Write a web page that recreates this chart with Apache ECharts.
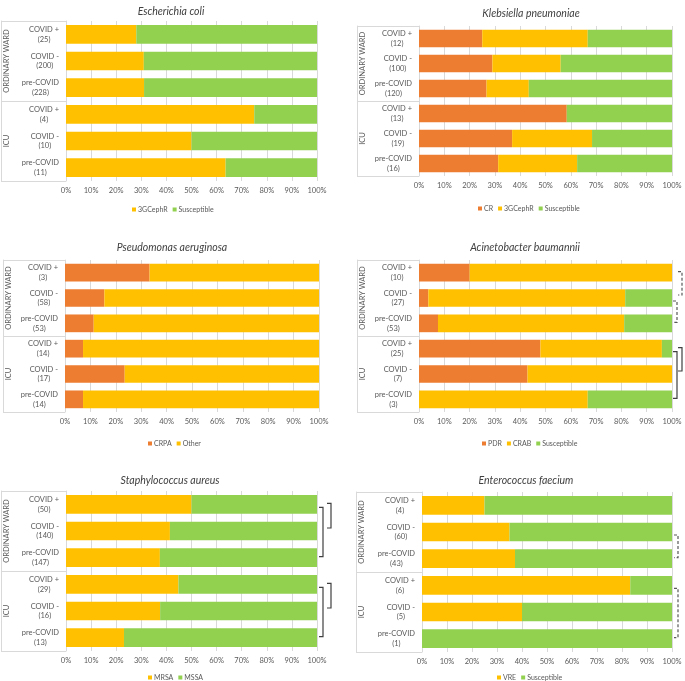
<!DOCTYPE html>
<html>
<head>
<meta charset="utf-8">
<script src="https://cdn.jsdelivr.net/npm/echarts@6/dist/echarts.min.js"></script>
<style>
  html, body { margin: 0; padding: 0; background: #fff; }
  #main { width: 685px; height: 681px; }
</style>
</head>
<body>
<div id="main"></div>
<script>
// rows, top to bottom, in every panel
var rowNames = ['COVID +', 'COVID -', 'pre-COVID', 'COVID +', 'COVID -', 'pre-COVID'];
var wards = ['ORDINARY WARD', 'ICU'];

// isolates per row
var ecoliN = [25, 200, 228, 4, 10, 11];
var klebN = [12, 100, 120, 13, 19, 16];
var pseuN = [3, 58, 53, 14, 17, 14];
var acinN = [10, 27, 53, 25, 7, 3];
var staphN = [50, 140, 147, 29, 16, 13];
var entN = [4, 60, 43, 6, 5, 1];

// percentages
var ecoli3GC = [28, 31, 31.1, 75, 50, 63.6];
var ecoliSusc = [72, 69, 68.9, 25, 50, 36.4];

var klebCR = [25, 29, 26.7, 58.4, 36.8, 31.3];
var kleb3GC = [41.7, 27, 16.7, 0, 31.6, 31.2];
var klebSusc = [33.3, 44, 56.6, 41.6, 31.6, 37.5];

var pseuCRPA = [33.3, 15.5, 11.3, 7.1, 23.5, 7.1];
var pseuOther = [66.7, 84.5, 88.7, 92.9, 76.5, 92.9];

var acinPDR = [20, 3.7, 7.5, 48, 42.9, 0];
var acinCRAB = [80, 77.8, 73.6, 48, 57.1, 66.7];
var acinSusc = [0, 18.5, 18.9, 4, 0, 33.3];

var staphMRSA = [50, 41.4, 37.4, 44.8, 37.5, 23.1];
var staphMSSA = [50, 58.6, 62.6, 55.2, 62.5, 76.9];

var entVRE = [25, 35, 37.2, 83.3, 40, 0];
var entSusc = [75, 65, 62.8, 16.7, 60, 100];

// significance brackets: panel, from row, to row, level (0 inner, 1 outer), dashed
var brackets = [
	[3, 0, 1, 1, true], [3, 1, 2, 0, true], [3, 3, 4, 1, false], [3, 3, 5, 0, false],
	[4, 0, 1, 1, false], [4, 0, 2, 0, false], [4, 3, 4, 1, false], [4, 3, 5, 0, false],
	[5, 1, 2, 0, true], [5, 3, 5, 0, true]
];

var ORANGE = '#ED7D31', YELLOW = '#FFC000', GREEN = '#92D050';
var TXT = '#595959', LINE = '#D9D9D9';
var FONT = 'Lato, "Open Sans", sans-serif';

var panels = [
	{ title: 'Escherichia coli', n: ecoliN, segs: [['3GCephR', ecoli3GC, YELLOW], ['Susceptible', ecoliSusc, GREEN]],
		grid: { left: 66, top: 21, width: 251, height: 160 }, box: 65, cx: 166, ty: 1, lx: 127, ly: 201, off: [6, 14] },
	{ title: 'Klebsiella pneumoniae', n: klebN, segs: [['CR', klebCR, ORANGE], ['3GCephR', kleb3GC, YELLOW], ['Susceptible', klebSusc, GREEN]],
		grid: { left: 419, top: 26, width: 253, height: 150 }, box: 62, cx: 526, ty: 3, lx: 473, ly: 200, off: [6, 14] },
	{ title: 'Pseudomonas aeruginosa', n: pseuN, segs: [['CRPA', pseuCRPA, ORANGE], ['Other', pseuOther, YELLOW]],
		grid: { left: 65, top: 260, width: 254, height: 152 }, box: 62, cx: 167, ty: 237, lx: 143, ly: 435, off: [6, 14] },
	{ title: 'Acinetobacter baumannii', n: acinN, segs: [['PDR', acinPDR, ORANGE], ['CRAB', acinCRAB, YELLOW], ['Susceptible', acinSusc, GREEN]],
		grid: { left: 419, top: 260, width: 253, height: 152 }, box: 62, cx: 520, ty: 237, lx: 477, ly: 435, off: [5, 10] },
	{ title: 'Staphylococcus aureus', n: staphN, segs: [['MRSA', staphMRSA, YELLOW], ['MSSA', staphMSSA, GREEN]],
		grid: { left: 66, top: 491, width: 251, height: 160 }, box: 65, cx: 165, ty: 470, lx: 143, ly: 669, off: [6, 14] },
	{ title: 'Enterococcus faecium', n: entN, segs: [['VRE', entVRE, YELLOW], ['Susceptible', entSusc, GREEN]],
		grid: { left: 422, top: 492, width: 250, height: 160 }, box: 66, cx: 521, ty: 470, lx: 492, ly: 669, off: [6, 14] }
];

var option = {
	animation: false,
	backgroundColor: '#fff',
	textStyle: { fontFamily: FONT },
	title: [], legend: [], grid: [], xAxis: [], yAxis: [], series: []
};

panels.forEach(function(p, i)
{
	var g = p.grid;
	option.title.push({
		text: p.title, left: p.cx, top: p.ty, textAlign: 'center',
		textStyle: { fontFamily: FONT, fontSize: 10.5, fontStyle: 'italic', fontWeight: 'normal', color: '#404040' }
	});
	option.legend.push({
		data: p.segs.map(function(s) { return s[0]; }),
		left: p.lx, top: p.ly, itemWidth: 4, itemHeight: 4, itemGap: 5, icon: 'rect',
		selectedMode: false,
		textStyle: { fontFamily: FONT, fontSize: 7, color: TXT, padding: [0, 0, 0, -3] }
	});
	// plot grid (2i) and ward box grid (2i+1)
	option.grid.push({ left: g.left, top: g.top, width: g.width, height: g.height, outerBoundsMode: 'none', containLabel: false });
	option.grid.push({ left: g.left - p.box, top: g.top, width: p.box, height: g.height, outerBoundsMode: 'none', containLabel: false });

	option.xAxis.push({
		type: 'value', gridIndex: 2 * i, min: 0, max: 100, interval: 10,
		axisLine: { show: false }, axisTick: { show: false },
		splitLine: { lineStyle: { color: LINE, width: 1 } },
		axisLabel: { formatter: '{value}%', fontSize: 7.5, color: TXT, margin: 6, fontFamily: FONT }
	});
	option.xAxis.push({ type: 'value', gridIndex: 2 * i + 1, min: 0, max: 1, show: false });

	var labels = rowNames.map(function(r, k) { return r + '\n(' + p.n[k] + ')'; });
	option.yAxis.push({
		type: 'category', gridIndex: 2 * i, inverse: true, data: labels,
		axisLine: { lineStyle: { color: LINE } }, axisTick: { show: false },
		axisLabel: {
			margin: 7, align: 'right', interval: 0,
			formatter: function(v) { return v.split('\n').map(function(s) { return '{c|' + s + '}'; }).join('\n'); },
			rich: { c: { align: 'center', fontSize: 7.5, color: TXT, lineHeight: 9.5, fontFamily: FONT } }
		}
	});
	option.yAxis.push({
		type: 'category', gridIndex: 2 * i + 1, inverse: true, data: wards,
		axisLine: { show: true, lineStyle: { color: LINE } },
		axisTick: { show: true, inside: true, interval: 0, length: p.box, lineStyle: { color: LINE } },
		axisLabel: { show: true, inside: true, interval: 0, hideOverlap: false, rotate: 90, margin: 2, fontSize: 7.5, color: TXT, fontFamily: FONT }
	});

	p.segs.forEach(function(s)
	{
		option.series.push({
			type: 'bar', name: s[0], stack: 'p' + i, xAxisIndex: 2 * i, yAxisIndex: 2 * i,
			data: s[1], barCategoryGap: '30%', itemStyle: { color: s[2] }
		});
	});
});

var chart = echarts.init(document.getElementById('main'), null, { renderer: 'canvas' });
chart.setOption(option);

// brackets, placed from the axes
var graphics = [];
brackets.forEach(function(b)
{
	var p = panels[b[0]];
	var a = chart.convertToPixel({ xAxisIndex: 2 * b[0], yAxisIndex: 2 * b[0] }, [100, b[1]]);
	var c = chart.convertToPixel({ xAxisIndex: 2 * b[0], yAxisIndex: 2 * b[0] }, [100, b[2]]);
	var x = a[0] + p.off[b[3]];
	var y1 = a[1] + (b[3] === 0 ? 3 : -1);
	var y2 = c[1] - (b[3] === 0 ? 1 : 3);
	graphics.push({
		type: 'polyline', silent: true,
		shape: { points: [[x - 4, y1], [x, y1], [x, y2], [x - 4, y2]] },
		style: { stroke: b[4] ? '#595959' : '#404040', lineWidth: 1.2, fill: null, lineDash: b[4] ? [3, 2] : null }
	});
});
chart.setOption({ graphic: graphics });
</script>
</body>
</html>
